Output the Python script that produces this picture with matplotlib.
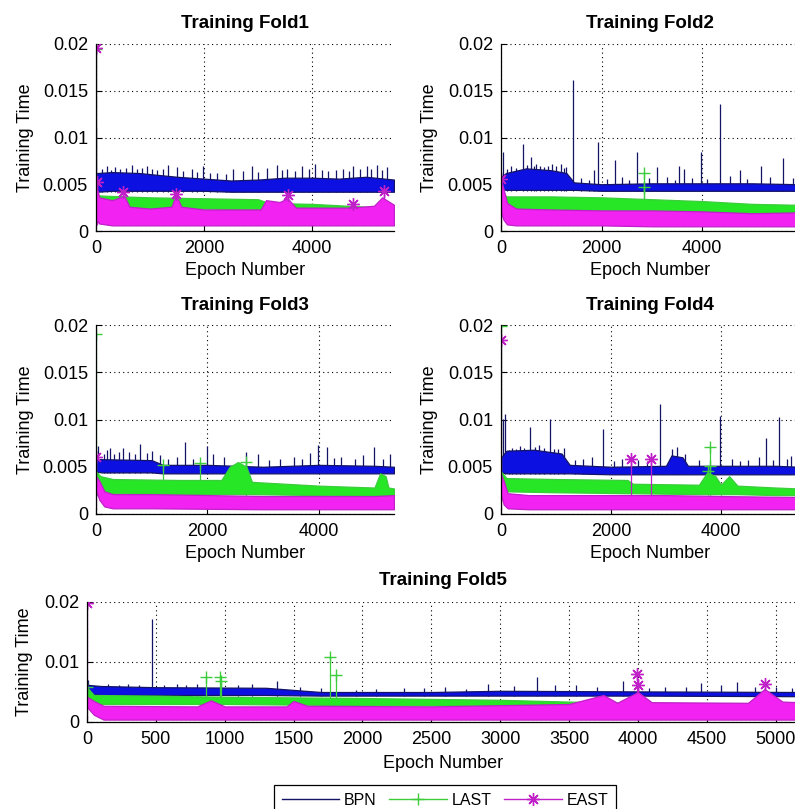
import matplotlib
matplotlib.use("Agg")
import matplotlib.pyplot as plt
from matplotlib.lines import Line2D

plt.rcParams['font.family'] = ['Liberation Sans', 'DejaVu Sans']

# Band of each training-time trace: (epoch, low, high)
# Peaks sticking out of the band: (epoch, value)

# ---- Fold 1 ----
FOLD1_BPN_BAND = [(0, 0.0044, 0.0060), (20, 0.0042, 0.0062), (300, 0.0043, 0.0063), (800, 0.0043, 0.0062),
                  (1500, 0.0043, 0.0058), (2000, 0.0043, 0.0056), (2500, 0.0042, 0.0054), (3000, 0.0042, 0.0055),
                  (3500, 0.0042, 0.0057), (4000, 0.0042, 0.0057), (4500, 0.0042, 0.0056), (5000, 0.0042, 0.0058),
                  (5520, 0.0042, 0.0055)]
FOLD1_BPN_PEAKS = [(5, 0.0110), (120, 0.0066), (198, 0.0070), (270, 0.0065), (352, 0.0068), (450, 0.0066),
                   (560, 0.0067), (660, 0.0071), (753, 0.0066), (850, 0.0067), (938, 0.0069), (1030, 0.0066),
                   (1123, 0.0065), (1240, 0.0066), (1340, 0.0071), (1494, 0.0068), (1620, 0.0064), (1772, 0.0066),
                   (1880, 0.0063), (1988, 0.0069), (2110, 0.0062), (2235, 0.0062), (2400, 0.0061), (2543, 0.0066),
                   (2728, 0.0064), (2883, 0.0070), (3010, 0.0063), (3160, 0.0067), (3346, 0.0071), (3440, 0.0065),
                   (3531, 0.0066), (3680, 0.0064), (3809, 0.0070), (3940, 0.0066), (4056, 0.0072), (4180, 0.0065),
                   (4302, 0.0064), (4450, 0.0065), (4580, 0.0066), (4680, 0.0064), (4765, 0.0070), (4890, 0.0066),
                   (5012, 0.0070), (5100, 0.0066), (5198, 0.0071), (5300, 0.0065), (5383, 0.0068)]
FOLD1_LAST_BAND = [(0, 0.0030, 0.0042), (60, 0.0025, 0.0038), (500, 0.0025, 0.0037), (1000, 0.0024, 0.0036),
                   (2000, 0.0024, 0.0035), (3000, 0.0023, 0.0034), (3200, 0.0022, 0.0030), (4000, 0.0021, 0.0029),
                   (5000, 0.0020, 0.0026), (5520, 0.0020, 0.0025)]
FOLD1_LAST_PEAKS = [(0, 0.0195)]
FOLD1_EAST_BAND = [(0, 0.0012, 0.0050), (60, 0.0008, 0.0036), (300, 0.0006, 0.0033), (450, 0.0006, 0.0036),
                   (520, 0.0006, 0.0038), (620, 0.0006, 0.0026), (1000, 0.0006, 0.0024), (1400, 0.0006, 0.0026),
                   (1480, 0.0006, 0.0039), (1580, 0.0006, 0.0026), (2000, 0.0006, 0.0023), (3050, 0.0006, 0.0023),
                   (3150, 0.0006, 0.0033), (3400, 0.0006, 0.0031), (3550, 0.0006, 0.0035), (3700, 0.0006, 0.0025),
                   (4700, 0.0006, 0.0025), (5150, 0.0006, 0.0027), (5300, 0.0006, 0.0036), (5520, 0.0006, 0.0028)]
FOLD1_EAST_PEAKS = [(0, 0.0196), (10, 0.0052), (500, 0.0042), (1480, 0.0040), (3550, 0.0038), (4760, 0.0029),
                    (5330, 0.0043)]

# ---- Fold 2 ----
FOLD2_BPN_BAND = [(0, 0.0045, 0.0058), (100, 0.0044, 0.0062), (500, 0.0044, 0.0067), (1000, 0.0044, 0.0065),
                  (1300, 0.0044, 0.0062), (1450, 0.0044, 0.0052), (2000, 0.0043, 0.0050), (3000, 0.0043, 0.0051),
                  (4000, 0.0043, 0.0051), (5000, 0.0043, 0.0051), (5925, 0.0043, 0.0050)]
FOLD2_BPN_PEAKS = [(46, 0.0084), (120, 0.0066), (200, 0.0069), (300, 0.0067), (430, 0.0093), (510, 0.0071),
                   (596, 0.0079), (650, 0.0070), (700, 0.0072), (780, 0.0070), (850, 0.0068), (930, 0.0069),
                   (1007, 0.0072), (1100, 0.0070), (1192, 0.0072), (1250, 0.0067), (1300, 0.0068), (1424, 0.0161),
                   (1600, 0.0057), (1750, 0.0055), (1848, 0.0065), (1934, 0.0095), (2100, 0.0056), (2265, 0.0076),
                   (2400, 0.0058), (2550, 0.0055), (2709, 0.0085), (2950, 0.0057), (3106, 0.0068), (3300, 0.0058),
                   (3450, 0.0055), (3536, 0.0069), (3642, 0.0066), (3800, 0.0057), (3967, 0.0085), (4100, 0.0056),
                   (4351, 0.0136), (4550, 0.0059), (4748, 0.0065), (4900, 0.0056), (5179, 0.0069), (5350, 0.0058),
                   (5609, 0.0078), (5800, 0.0057)]
FOLD2_LAST_BAND = [(0, 0.0025, 0.0045), (100, 0.0024, 0.0037), (1000, 0.0023, 0.0037), (2000, 0.0022, 0.0036),
                   (3000, 0.0021, 0.0034), (4000, 0.0020, 0.0032), (5000, 0.0019, 0.0029), (5925, 0.0018, 0.0028)]
FOLD2_LAST_PEAKS = [(2840, 0.0062), (2850, 0.0047)]
FOLD2_EAST_BAND = [(0, 0.0020, 0.0055), (50, 0.0012, 0.0045), (120, 0.0007, 0.0030), (300, 0.0006, 0.0024),
                   (1000, 0.0006, 0.0023), (2000, 0.0006, 0.0022), (3000, 0.0005, 0.0022), (4000, 0.0005, 0.0021),
                   (5000, 0.0005, 0.0019), (5925, 0.0005, 0.0020)]
FOLD2_EAST_PEAKS = [(5, 0.0056)]

# ---- Fold 3 ----
FOLD3_BPN_BAND = [(0, 0.0045, 0.0058), (100, 0.0044, 0.0058), (1000, 0.0044, 0.0057), (1200, 0.0043, 0.0052),
                  (2000, 0.0043, 0.0052), (3000, 0.0043, 0.0050), (4000, 0.0043, 0.0052), (5000, 0.0043, 0.0051),
                  (5350, 0.0043, 0.0050)]
FOLD3_BPN_PEAKS = [(42, 0.0072), (150, 0.0063), (192, 0.0068), (250, 0.0070), (330, 0.0064), (420, 0.0066),
                   (491, 0.0070), (600, 0.0066), (700, 0.0064), (790, 0.0074), (910, 0.0065), (1000, 0.0067),
                   (1150, 0.0062), (1300, 0.0058), (1450, 0.0060), (1599, 0.0076), (1750, 0.0058), (1988, 0.0072),
                   (2108, 0.0063), (2300, 0.0060), (2695, 0.0066), (2916, 0.0064), (3100, 0.0057), (3300, 0.0058),
                   (3550, 0.0060), (3700, 0.0058), (3844, 0.0065), (3994, 0.0073), (4144, 0.0071), (4280, 0.0059),
                   (4400, 0.0060), (4650, 0.0058), (4800, 0.0062), (4982, 0.0071), (5150, 0.0058), (5281, 0.0064)]
FOLD3_LAST_BAND = [(0, 0.0020, 0.0045), (80, 0.0022, 0.0040), (300, 0.0022, 0.0037), (1500, 0.0021, 0.0036),
                   (2250, 0.0021, 0.0036), (2400, 0.0021, 0.0050), (2550, 0.0021, 0.0055), (2700, 0.0021, 0.0050),
                   (2800, 0.0021, 0.0034), (4000, 0.0020, 0.0030), (5000, 0.0019, 0.0028), (5100, 0.0019, 0.0043),
                   (5200, 0.0019, 0.0040), (5250, 0.0019, 0.0028), (5350, 0.0019, 0.0027)]
FOLD3_LAST_PEAKS = [(0, 0.0191), (1210, 0.0052), (1870, 0.0054), (2700, 0.0055)]
FOLD3_EAST_BAND = [(0, 0.0025, 0.0040), (60, 0.0015, 0.0035), (150, 0.0008, 0.0024), (300, 0.0006, 0.0021),
                   (1000, 0.0006, 0.0021), (3000, 0.0005, 0.0019), (5000, 0.0005, 0.0019), (5350, 0.0005, 0.0020)]
FOLD3_EAST_PEAKS = [(0, 0.0060)]

# ---- Fold 4 ----
FOLD4_BPN_BAND = [(0, 0.0044, 0.0060), (100, 0.0043, 0.0067), (600, 0.0043, 0.0068), (1100, 0.0043, 0.0064),
                  (1250, 0.0043, 0.0052), (2000, 0.0042, 0.0050), (3000, 0.0042, 0.0051), (3100, 0.0042, 0.0062),
                  (3300, 0.0042, 0.0060), (3400, 0.0042, 0.0051), (4000, 0.0042, 0.0051), (5000, 0.0042, 0.0051),
                  (5420, 0.0042, 0.0050)]
FOLD4_BPN_PEAKS = [(30, 0.0101), (73, 0.0106), (140, 0.0068), (200, 0.0070), (280, 0.0069), (350, 0.0072),
                   (420, 0.0070), (532, 0.0092), (620, 0.0071), (700, 0.0073), (780, 0.0070), (899, 0.0101),
                   (960, 0.0069), (1034, 0.0069), (1150, 0.0070), (1350, 0.0057), (1500, 0.0058), (1650, 0.0060),
                   (1847, 0.0090), (2050, 0.0056), (2200, 0.0058), (2500, 0.0057), (2650, 0.0056), (2887, 0.0116),
                   (3119, 0.0069), (3200, 0.0071), (3350, 0.0063), (3600, 0.0057), (3976, 0.0104), (4200, 0.0058),
                   (4350, 0.0056), (4500, 0.0057), (4700, 0.0060), (4826, 0.0080), (4950, 0.0057), (5058, 0.0103),
                   (5200, 0.0058), (5272, 0.0061), (5380, 0.0057)]
FOLD4_LAST_BAND = [(0, 0.0025, 0.0045), (100, 0.0024, 0.0038), (1000, 0.0023, 0.0037), (2300, 0.0022, 0.0036),
                   (2400, 0.0022, 0.0032), (3600, 0.0021, 0.0031), (3750, 0.0021, 0.0044), (3900, 0.0021, 0.0040),
                   (4000, 0.0021, 0.0031), (4150, 0.0021, 0.0040), (4300, 0.0021, 0.0030), (5000, 0.0020, 0.0028),
                   (5420, 0.0020, 0.0027)]
FOLD4_LAST_PEAKS = [(0, 0.0199), (3770, 0.0046), (3800, 0.0071), (3810, 0.0051)]
FOLD4_EAST_BAND = [(0, 0.0020, 0.0042), (50, 0.0010, 0.0035), (120, 0.0006, 0.0022), (500, 0.0005, 0.0020),
                   (2000, 0.0005, 0.0020), (3000, 0.0005, 0.0020), (4000, 0.0005, 0.0019), (5420, 0.0005, 0.0018)]
FOLD4_EAST_PEAKS = [(0, 0.0184), (2360, 0.0058), (2730, 0.0058)]

# ---- Fold 5 ----
FOLD5_BPN_BAND = [(0, 0.0048, 0.0062), (100, 0.0045, 0.0060), (500, 0.0045, 0.0058), (1300, 0.0045, 0.0057),
                  (1700, 0.0044, 0.0050), (2500, 0.0044, 0.0050), (3000, 0.0044, 0.0052), (4000, 0.0044, 0.0051),
                  (5170, 0.0043, 0.0050)]
FOLD5_BPN_PEAKS = [(5, 0.0070), (150, 0.0064), (230, 0.0061), (300, 0.0063), (380, 0.0062), (470, 0.0172),
                   (560, 0.0062), (650, 0.0063), (720, 0.0061), (800, 0.0064), (1100, 0.0062), (1200, 0.0063),
                   (1380, 0.0068), (1550, 0.0058), (1700, 0.0057), (1950, 0.0054), (2100, 0.0055), (2300, 0.0057),
                   (2450, 0.0056), (2600, 0.0058), (2750, 0.0055), (2913, 0.0063), (3100, 0.0060), (3268, 0.0075),
                   (3400, 0.0062), (3551, 0.0062), (3700, 0.0058), (3891, 0.0068), (4080, 0.0057), (4200, 0.0058),
                   (4350, 0.0059), (4457, 0.0065), (4600, 0.0061), (4717, 0.0066), (4850, 0.0058), (5000, 0.0058),
                   (5120, 0.0057)]
FOLD5_LAST_BAND = [(0, 0.0030, 0.0058), (50, 0.0030, 0.0045), (500, 0.0030, 0.0044), (1000, 0.0030, 0.0042),
                   (2000, 0.0028, 0.0040), (3000, 0.0027, 0.0037), (3500, 0.0026, 0.0034), (4000, 0.0025, 0.0032),
                   (5170, 0.0024, 0.0030)]
FOLD5_LAST_PEAKS = [(0, 0.0058), (862, 0.0075), (963, 0.0075), (970, 0.0068), (1768, 0.0108), (1811, 0.0078)]
FOLD5_EAST_BAND = [(0, 0.0025, 0.0042), (50, 0.0012, 0.0035), (120, 0.0004, 0.0027), (800, 0.0004, 0.0026),
                   (900, 0.0004, 0.0036), (1000, 0.0004, 0.0026), (1450, 0.0004, 0.0026), (1500, 0.0004, 0.0035),
                   (1600, 0.0004, 0.0027), (2500, 0.0004, 0.0026), (3500, 0.0004, 0.0030), (3750, 0.0004, 0.0045),
                   (3850, 0.0004, 0.0032), (4000, 0.0004, 0.0050), (4100, 0.0004, 0.0033), (4800, 0.0004, 0.0032),
                   (4920, 0.0004, 0.0055), (5050, 0.0004, 0.0034), (5170, 0.0004, 0.0033)]
FOLD5_EAST_PEAKS = [(0, 0.0198), (3993, 0.0080), (4000, 0.0062), (4920, 0.0064)]

EPOCH_LIMITS = [5520, 5925, 5350, 5420, 5170]
FOLD_TITLES = ["Training Fold1", "Training Fold2", "Training Fold3", "Training Fold4", "Training Fold5"]
SERIES_NAMES = ["BPN", "LAST", "EAST"]

# colours: band fill, band edge / spikes
BPN_FILL, BPN_LINE = "#0c10e0", "#141466"
LAST_FILL, LAST_LINE = "#26e626", "#3ccc3c"
EAST_FILL, EAST_LINE = "#f222f2", "#c020c8"

# MATLAB-style asterisk: four crossing strokes
ASTERISK = (8, 2, 0)


def draw_series(ax, band, peaks, fill, line, marker, z):
    xs = [b[0] for b in band]
    lo = [b[1] for b in band]
    hi = [b[2] for b in band]
    px = [p[0] for p in peaks]
    py = [p[1] for p in peaks]
    # spikes start from the band floor; the band itself hides their lower part
    ax.vlines(px, min(lo), py, colors=line, linewidth=0.9, zorder=z)
    ax.fill_between(xs, lo, hi, facecolor=fill, edgecolor=line, linewidth=0.9, zorder=z + 0.1)
    if marker:
        ax.plot(px, py, linestyle="none", marker=marker, markersize=9, markeredgewidth=1.0,
                color=line, zorder=z + 0.2)


def style_axes(ax, xmax, yticks, ylabels, xticks, title, title_pad, ylabel_x, xlabel_y):
    ax.set_xlim(0, xmax)
    ax.set_ylim(0, 0.02)
    ax.set_xticks(xticks)
    ax.set_xticklabels([str(t) for t in xticks])
    ax.set_yticks(yticks)
    ax.set_yticklabels(ylabels)
    ax.spines["top"].set_visible(False)
    ax.spines["right"].set_visible(False)
    for s in ("left", "bottom"):
        ax.spines[s].set_linewidth(0.9)
        ax.spines[s].set_zorder(10)
    ax.tick_params(direction="in", length=4, width=0.8, labelsize=13, top=False, right=False)
    ax.tick_params(axis="x", pad=6.2)
    ax.tick_params(axis="y", pad=5.8)
    ax.grid(True, color="black", linestyle=(0, (1, 3)), linewidth=0.8)
    ax.set_axisbelow(True)
    ax.set_title(title, fontsize=13.5, fontweight="bold", pad=title_pad)
    ax.set_ylabel("Training Time", fontsize=13)
    ax.yaxis.set_label_coords(ylabel_x, 0.5)
    ax.set_xlabel("Epoch Number", fontsize=13)
    ax.xaxis.set_label_coords(0.5, xlabel_y)


fig = plt.figure(figsize=(7.95, 8.09), dpi=100, facecolor="white")

W, H = 795.0, 809.0
rects = [
    (96 / W, 1 - 231 / H, 298 / W, 187 / H),
    (501 / W, 1 - 231 / H, 298 / W, 187 / H),
    (96 / W, 1 - 514 / H, 298 / W, 189 / H),
    (501 / W, 1 - 514 / H, 298 / W, 189 / H),
    (87 / W, 1 - 722 / H, 712 / W, 120 / H),
]

folds = [
    (FOLD1_BPN_BAND, FOLD1_BPN_PEAKS, FOLD1_LAST_BAND, FOLD1_LAST_PEAKS, FOLD1_EAST_BAND, FOLD1_EAST_PEAKS),
    (FOLD2_BPN_BAND, FOLD2_BPN_PEAKS, FOLD2_LAST_BAND, FOLD2_LAST_PEAKS, FOLD2_EAST_BAND, FOLD2_EAST_PEAKS),
    (FOLD3_BPN_BAND, FOLD3_BPN_PEAKS, FOLD3_LAST_BAND, FOLD3_LAST_PEAKS, FOLD3_EAST_BAND, FOLD3_EAST_PEAKS),
    (FOLD4_BPN_BAND, FOLD4_BPN_PEAKS, FOLD4_LAST_BAND, FOLD4_LAST_PEAKS, FOLD4_EAST_BAND, FOLD4_EAST_PEAKS),
    (FOLD5_BPN_BAND, FOLD5_BPN_PEAKS, FOLD5_LAST_BAND, FOLD5_LAST_PEAKS, FOLD5_EAST_BAND, FOLD5_EAST_PEAKS),
]

for i, (rect, data) in enumerate(zip(rects, folds)):
    ax = fig.add_axes(rect)
    bpn_b, bpn_p, last_b, last_p, east_b, east_p = data
    draw_series(ax, bpn_b, bpn_p, BPN_FILL, BPN_LINE, None, 2)
    draw_series(ax, last_b, last_p, LAST_FILL, LAST_LINE, "+", 3)
    draw_series(ax, east_b, east_p, EAST_FILL, EAST_LINE, ASTERISK, 4)

    if i < 4:
        left_col = (i % 2 == 0)
        style_axes(ax, EPOCH_LIMITS[i],
                   [0, 0.005, 0.01, 0.015, 0.02], ["0", "0.005", "0.01", "0.015", "0.02"],
                   [0, 2000, 4000], FOLD_TITLES[i],
                   11.5 if i < 2 else 10.8,
                   -0.208 if left_col else -0.211, -0.165)
    else:
        style_axes(ax, EPOCH_LIMITS[i],
                   [0, 0.01, 0.02], ["0", "0.01", "0.02"],
                   list(range(0, 5001, 500)), FOLD_TITLES[i],
                   12.2, -0.076, -0.275)

handles = [
    Line2D([], [], color=BPN_LINE, linewidth=1.0, label=SERIES_NAMES[0]),
    Line2D([], [], color=LAST_LINE, linewidth=1.0, marker="+", markersize=9, label=SERIES_NAMES[1]),
    Line2D([], [], color=EAST_LINE, linewidth=1.0, marker=ASTERISK, markersize=9, label=SERIES_NAMES[2]),
]
leg = fig.legend(handles=handles, loc="upper center", bbox_to_anchor=(445 / W, 1 - 777 / H),
                 ncol=3, fontsize=11.5, frameon=True, fancybox=False, framealpha=1,
                 edgecolor="black", handlelength=3.6, handletextpad=0.3, columnspacing=0.8,
                 borderpad=0.5, numpoints=1)
leg.get_frame().set_linewidth(0.9)

fig.savefig("out.png", dpi=100, facecolor="white")
